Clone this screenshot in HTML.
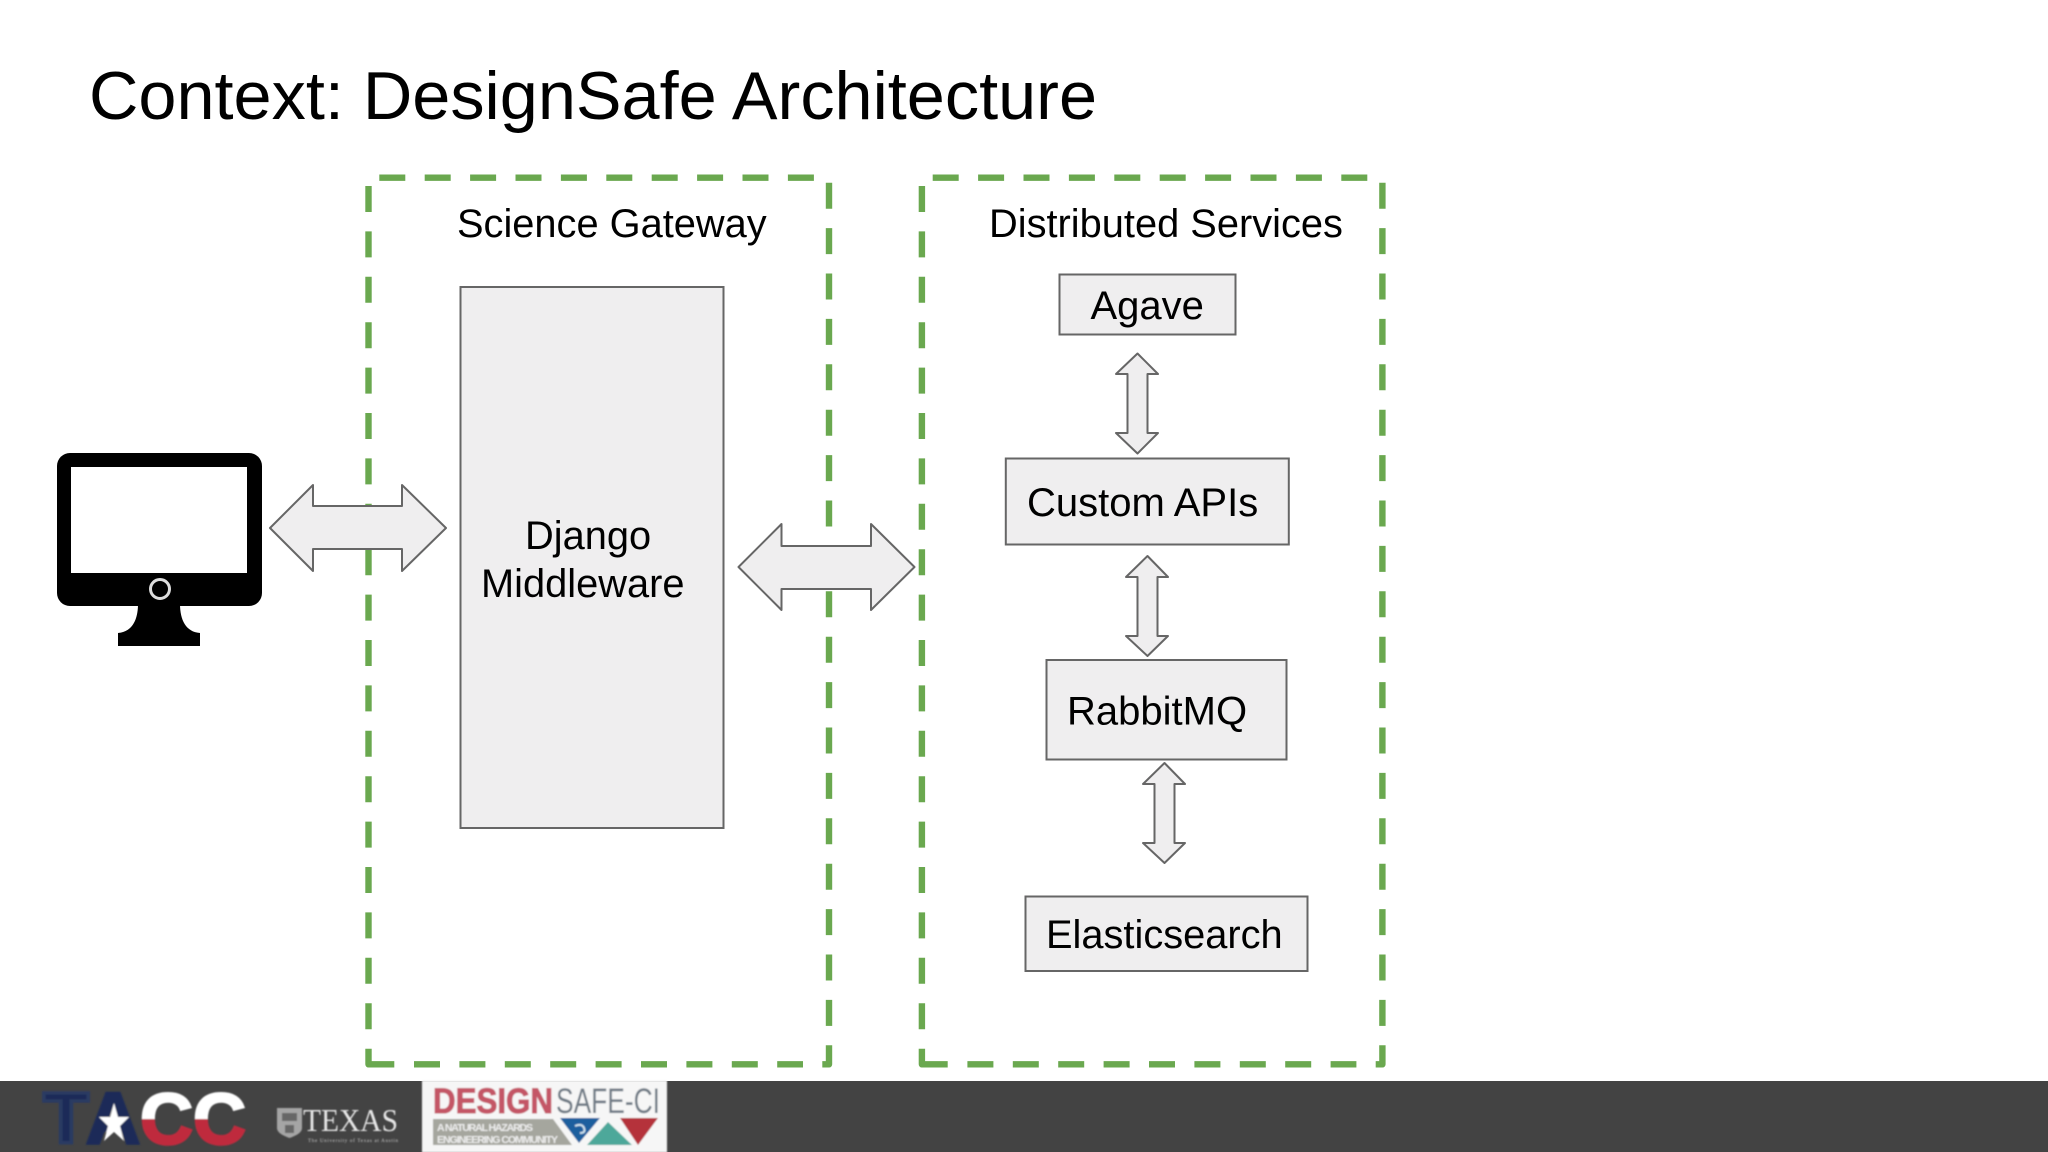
<!DOCTYPE html>
<html><head><meta charset="utf-8"><style>
html,body{margin:0;padding:0;background:#fff;width:2048px;height:1152px;overflow:hidden}
svg{display:block}
text{font-family:"Liberation Sans",sans-serif;fill:#000}
</style></head><body>
<svg width="2048" height="1152" viewBox="0 0 2048 1152" xmlns="http://www.w3.org/2000/svg">
<defs>
<linearGradient id="cc" gradientUnits="userSpaceOnUse" x1="0" y1="1092" x2="0" y2="1146"><stop offset="0.5" stop-color="#fff"/><stop offset="0.5" stop-color="#bf2a3c"/></linearGradient>
<filter id="b"><feGaussianBlur stdDeviation="0.8"/></filter>
<g id="dashbox" fill="none" stroke="#6aa84f" stroke-width="6.400">
<path d="M379.300 177.700H829" stroke-dasharray="26 19.400"/>
<path d="M829 182.700V1026" stroke-dasharray="26 19.400"/>
<path d="M829 1045.300V1064.300H822.300" stroke-linejoin="round"/>
<path d="M414 1064.300H803" stroke-dasharray="26 19.400"/>
<path d="M368.500 1048.700V1064.300H394.300" stroke-linejoin="round"/>
<path d="M368.500 186V1030" stroke-dasharray="26 19.400"/>
</g>
</defs>
<rect width="2048" height="1152" fill="#fff"/>
<text x="89" y="119" font-size="68" textLength="1008" lengthAdjust="spacingAndGlyphs">Context: DesignSafe Architecture</text>

<use href="#dashbox"/>
<use href="#dashbox" x="553.400"/>

<text x="457" y="237" font-size="39.800">Science Gateway</text>
<text x="989" y="237" font-size="39.800">Distributed Services</text>

<!-- boxes -->
<g fill="#efeeef" stroke="#666" stroke-width="2">
<rect x="460.500" y="287" width="263" height="541"/>
<rect x="1059.500" y="274.500" width="176" height="60"/>
<rect x="1005.800" y="458.500" width="283" height="86"/>
<rect x="1046.500" y="660" width="240" height="99.500"/>
<rect x="1025.500" y="896.500" width="282" height="74.500"/>
</g>
<text x="525" y="549" font-size="39.800">Django</text>
<text x="481" y="597" font-size="39.800">Middleware</text>
<text x="1090.500" y="319" font-size="40">Agave</text>
<text x="1027" y="516" font-size="40">Custom APIs</text>
<text x="1067" y="724.500" font-size="40">RabbitMQ</text>
<text x="1046" y="948" font-size="39.800">Elasticsearch</text>

<!-- arrows -->
<g fill="#efeeef" stroke="#666" stroke-width="2" stroke-linejoin="round">
<path d="M270 528L313 485V506H402V485L446 528L402 571V549H313V571Z"/>
<path d="M738.500 567L781.500 524V546H871V524L914.500 567L871 610V589H781.500V610Z"/>
<path d="M1137.500 353.500L1158 374H1147.500V433H1158L1137.500 453.500L1116 433H1127.500V374H1116Z"/>
<path d="M1147.500 556L1168 577H1157.500V636H1168L1147.500 656L1126 636H1137.500V577H1126Z"/>
<path d="M1164.500 763L1185 784H1174.500V843H1185L1164.500 863L1143 843H1154.500V784H1143Z"/>
</g>

<!-- monitor -->
<rect x="57" y="453" width="205" height="153" rx="13" fill="#000"/>
<rect x="71" y="467" width="176" height="106" fill="#fff"/>
<circle cx="160" cy="589" r="9.500" fill="none" stroke="#ddd" stroke-width="3"/>
<path d="M138 604H180C180 620 186 632 200 633V646H118V633C132 632 138 620 138 604Z" fill="#000"/>

<!-- footer -->
<rect x="0" y="1081" width="2048" height="71" fill="#434343"/>
<g filter="url(#b)">
<text x="43" y="1143" font-size="72" font-weight="bold" style="fill:#1c2c58;stroke:#2c3a62;stroke-width:3.500" textLength="46" lengthAdjust="spacingAndGlyphs">T</text>
<text x="86" y="1143" font-size="72" font-weight="bold" style="fill:#1c2c58;stroke:#1c2c58;stroke-width:3" textLength="54" lengthAdjust="spacingAndGlyphs">A</text>
<path d="M114 1103l4 14h11l-9 9 4 15-10-9-10 9 4-15-9-9h11z" fill="#fff"/>
<text x="140" y="1144" font-size="72" font-weight="bold" style="fill:url(#cc);stroke:url(#cc);stroke-width:2.500" textLength="53" lengthAdjust="spacingAndGlyphs">C</text>
<text x="193" y="1144" font-size="72" font-weight="bold" style="fill:url(#cc);stroke:url(#cc);stroke-width:2.500" textLength="53" lengthAdjust="spacingAndGlyphs">C</text>
<path d="M277 1108h25v20c0 5-7 8-12.500 10-5.500-2-12.500-5-12.500-10z" fill="#a5a5a5"/>
<path d="M282 1113h15v8h-15zM285 1125h9v8h-9z" fill="#666"/>
<text x="303" y="1131" font-size="32" style="font-family:'Liberation Serif',serif;fill:#e6e6e6" textLength="95" lengthAdjust="spacingAndGlyphs">TEXAS</text>
<text x="308" y="1142" font-size="5" style="font-family:'Liberation Serif',serif;fill:#ccc" textLength="90">The University of Texas at Austin</text>
<rect x="422" y="1080.500" width="245" height="72" fill="#f6f6f6"/>
<text x="433" y="1113" font-size="35" font-weight="bold" style="fill:#c45666;stroke:#c45666;stroke-width:1" textLength="120" lengthAdjust="spacingAndGlyphs">DESIGN</text>
<text x="556" y="1113" font-size="35" style="fill:#6f7a85" textLength="104" lengthAdjust="spacingAndGlyphs">SAFE-CI</text>
<path d="M433 1119H553L572 1145H433Z" fill="#a5a69e"/>
<text x="437" y="1131" font-size="10.500" font-weight="bold" style="fill:#eee" textLength="96" lengthAdjust="spacing">A NATURAL HAZARDS</text>
<text x="437" y="1143" font-size="10.500" font-weight="bold" style="fill:#eee" textLength="121" lengthAdjust="spacing">ENGINEERING COMMUNITY</text>
<path d="M560 1118H600L579 1143Z" fill="#1f5f9e"/>
<path d="M575 1126q7-3 9 2t-4 5" fill="none" stroke="#cfe3ee" stroke-width="2"/>
<path d="M587 1145L608 1122L632 1145Z" fill="#4ea89a"/>
<path d="M620 1118H658L638 1145Z" fill="#b5303a"/>
</g>
</svg>
</body></html>
